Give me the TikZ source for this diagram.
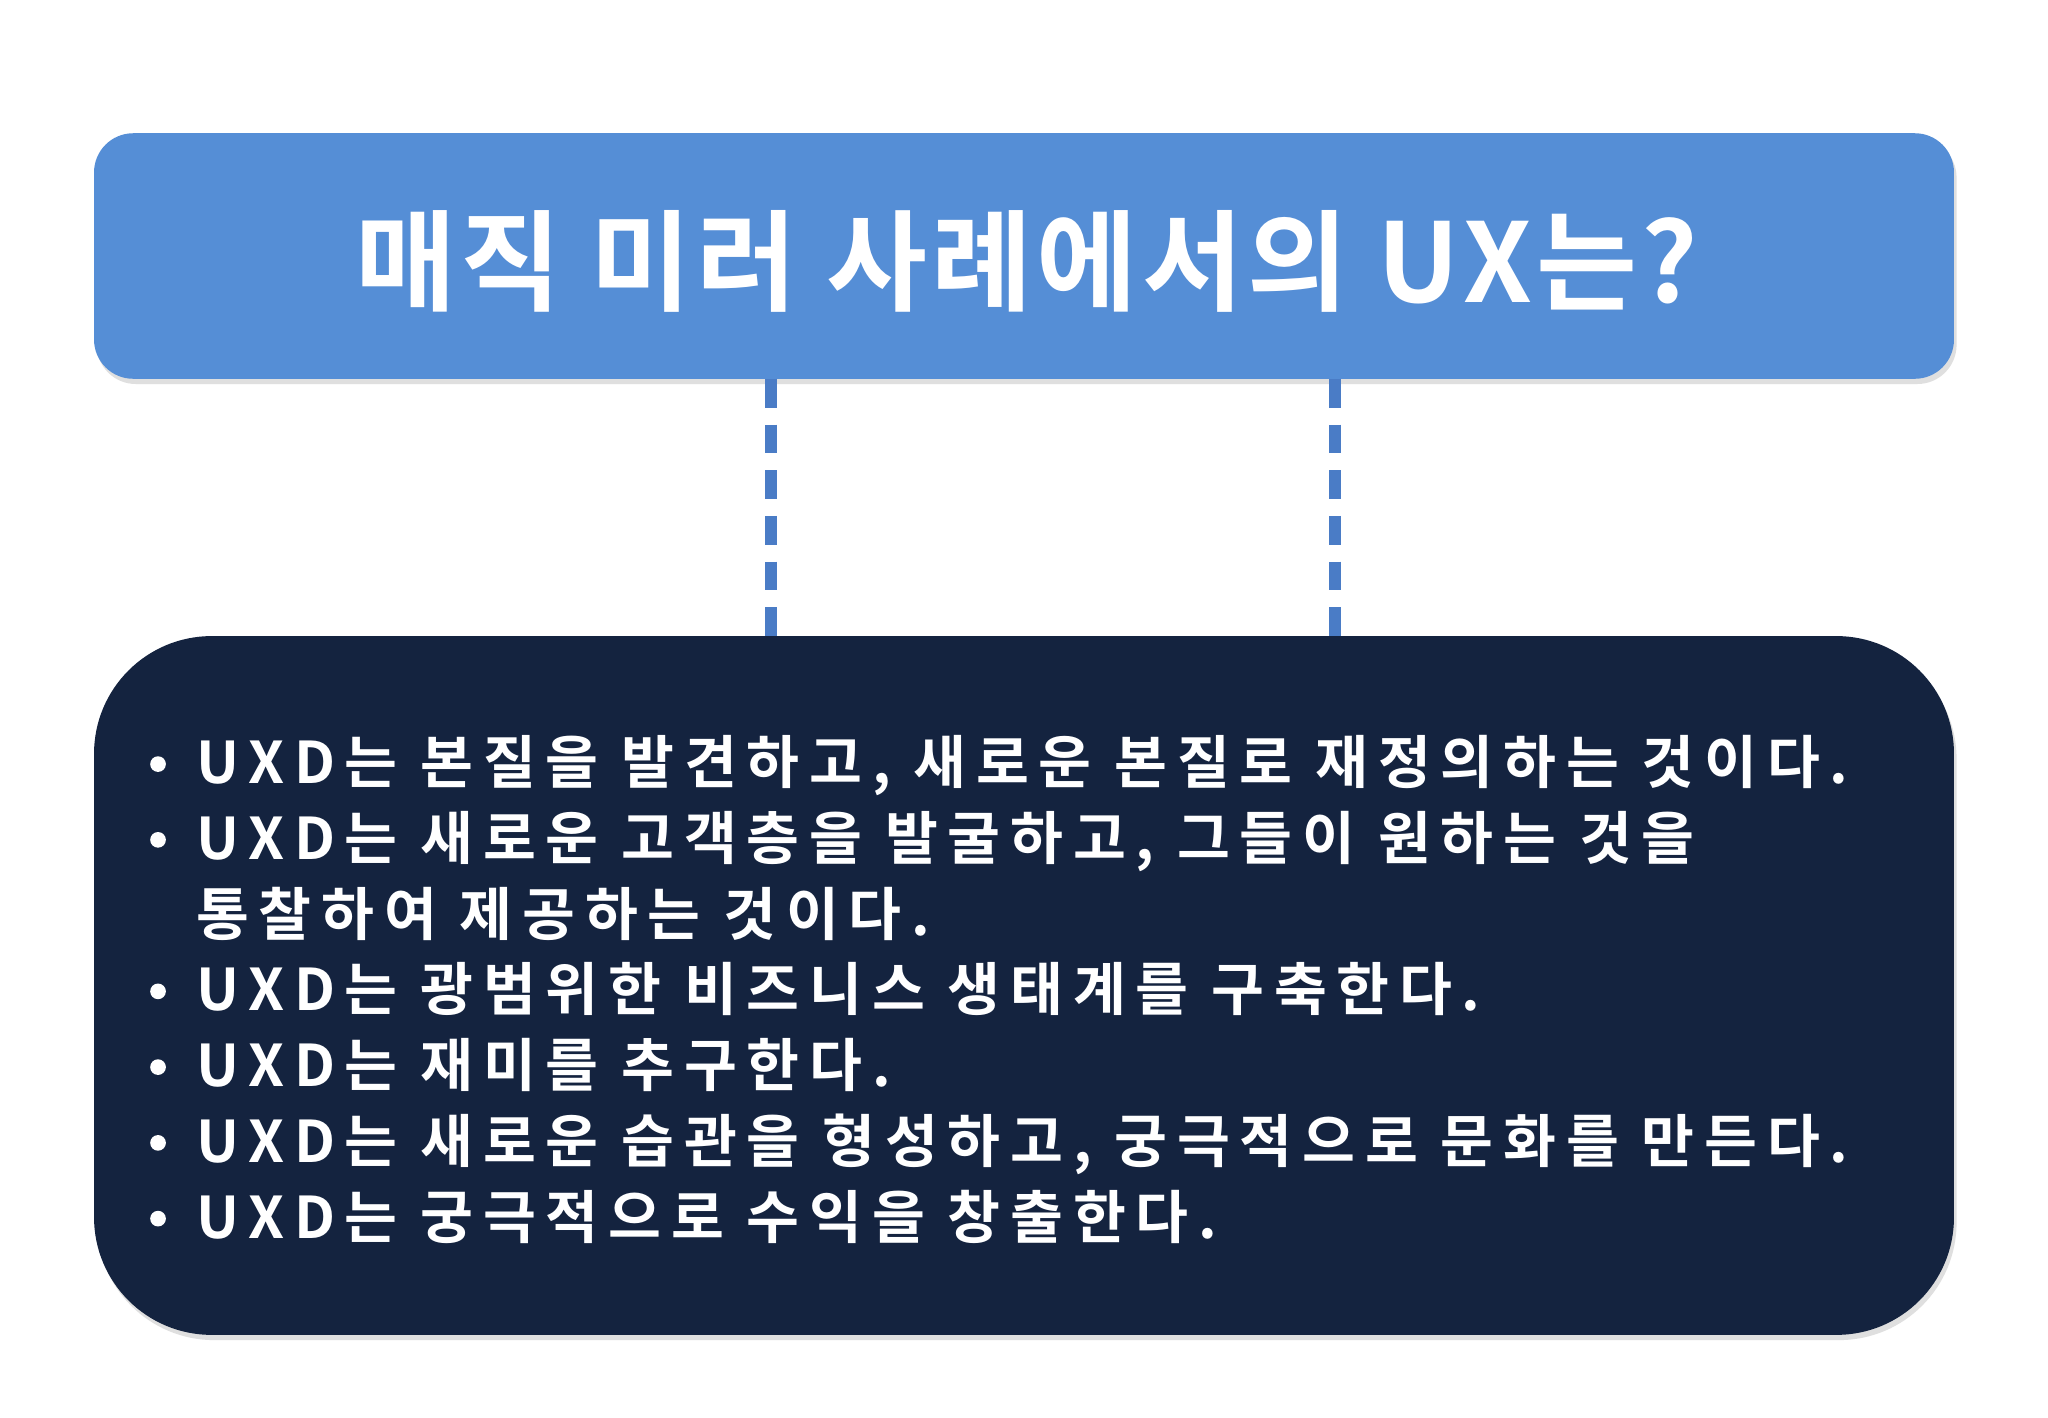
\documentclass[tikz,border=0pt]{standalone}
\usepackage{fontspec}
\newfontfamily\kr{Noto Sans CJK KR}[BoldFont={Noto Sans CJK KR Bold}]
\newfontfamily\krwide{Noto Sans CJK KR}[BoldFont={Noto Sans CJK KR Bold},LetterSpace=17]
\newfontfamily\krtitle{Noto Sans CJK KR}[BoldFont={Noto Sans CJK KR Bold},LetterSpace=4]
\definecolor{topblue}{HTML}{558ED6}
\definecolor{dashblue}{HTML}{4A7CC6}
\definecolor{navy}{HTML}{14233F}
\tikzset{
  boxtop/.style={fill=topblue,rounded corners=30pt},
  boxbot/.style={fill=navy,rounded corners=90pt},
  dashline/.style={draw=dashblue,line width=9pt,dash pattern=on 22pt off 13pt},
  bline/.style={anchor=base west,text=white,font=\krwide\bfseries\fontsize{44}{52}\selectfont,inner sep=0pt}
}
\begin{document}
\begin{tikzpicture}[x=1pt,y=-1pt]
\useasboundingbox[fill=white] (0,0) rectangle (1568,1085);
\fill[gray!25,rounded corners=30pt] (74,106) rectangle (1498,294);
\path[boxtop] (72,102) rectangle (1496,290);
\node[text=white,font=\krtitle\bfseries\fontsize{84}{90}\selectfont] (title) at (786,200) {매직 미러 사례에서의 UX는?};
\coordinate (a1) at (590,290); \coordinate (a2) at (590,487);
\coordinate (b1) at (1022,290); \coordinate (b2) at (1022,487);
\draw[dashline] (a1) -- (a2);
\draw[dashline] (b1) -- (b2);
\fill[gray!25,rounded corners=90pt] (74,491) rectangle (1498,1026);
\path[boxbot] (72,487) rectangle (1496,1022);
\foreach \t/\y/\b in {
 {UXD는 본질을 발견하고, 새로운 본질로 재정의하는 것이다.}/600/1,
 {UXD는 새로운 고객층을 발굴하고, 그들이 원하는 것을}/658/1,
 {통찰하여 제공하는 것이다.}/716/0,
 {UXD는 광범위한 비즈니스 생태계를 구축한다.}/774/1,
 {UXD는 재미를 추구한다.}/832/1,
 {UXD는 새로운 습관을 형성하고, 궁극적으로 문화를 만든다.}/890/1,
 {UXD는 궁극적으로 수익을 창출한다.}/948/1}{
  \node[bline] at (150,\y) {\t};
  \ifnum\b=1 \fill[white] (121,\y-15) circle (6pt);\fi
}
\end{tikzpicture}
\end{document}
